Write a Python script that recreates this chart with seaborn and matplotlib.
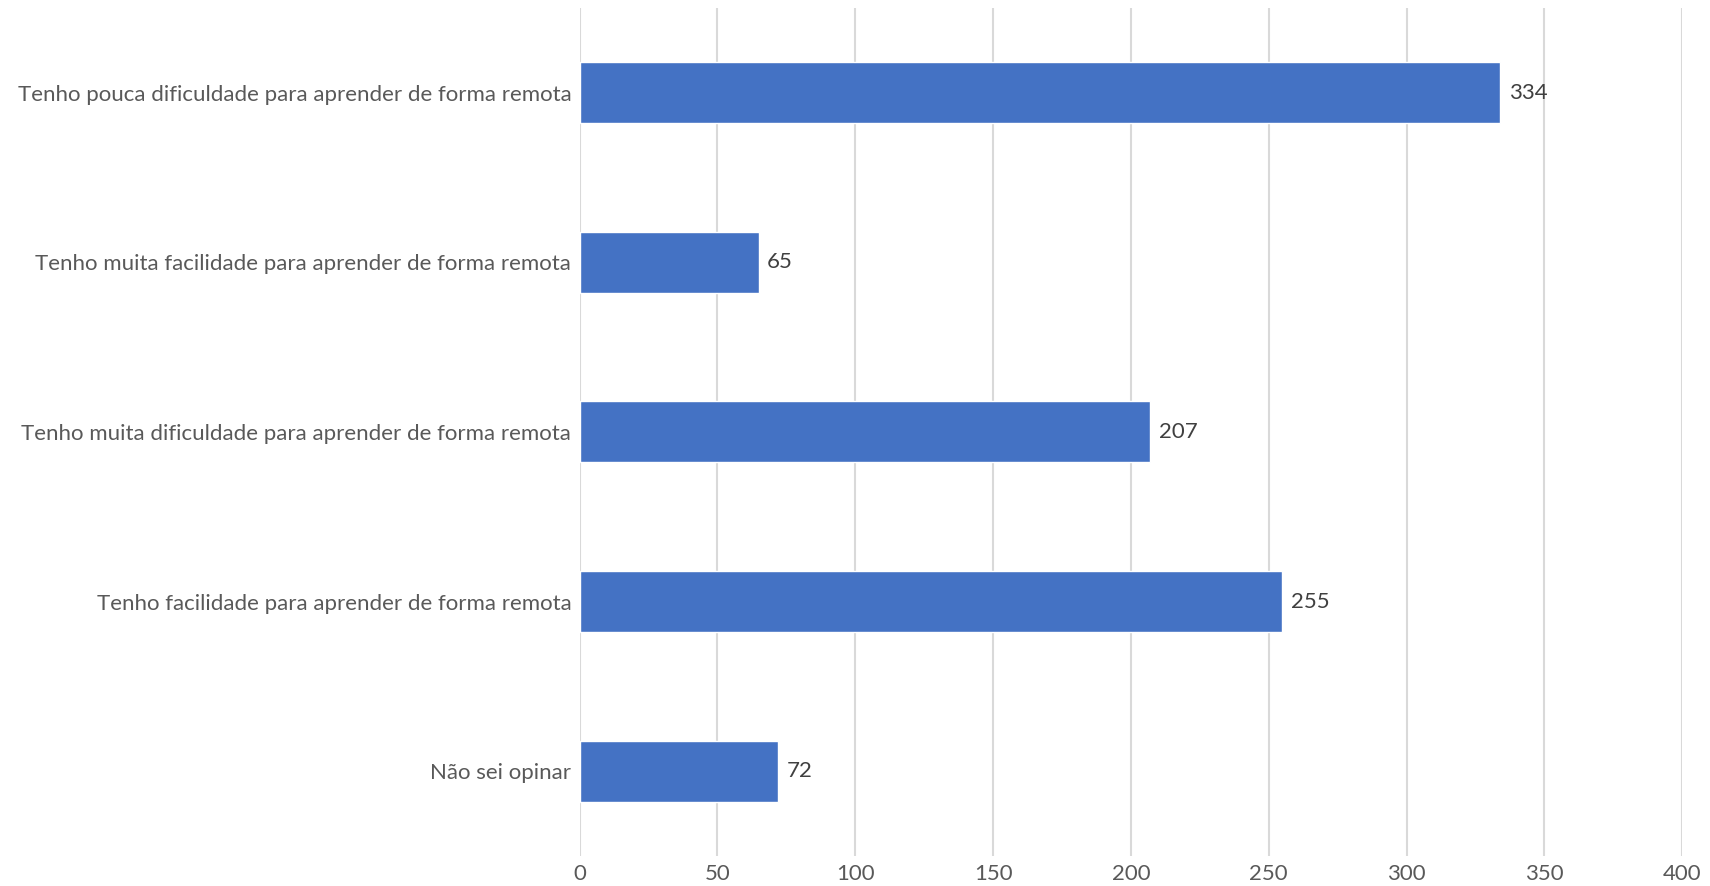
import matplotlib
matplotlib.use("Agg")
import matplotlib.pyplot as plt
import pandas as pd
import seaborn as sns

categories = [
    "Tenho pouca dificuldade para aprender de forma remota",
    "Tenho muita facilidade para aprender de forma remota",
    "Tenho muita dificuldade para aprender de forma remota",
    "Tenho facilidade para aprender de forma remota",
    "Não sei opinar",
]
counts = [334, 65, 207, 255, 72]
x_ticks = [0, 50, 100, 150, 200, 250, 300, 350, 400]

df = pd.DataFrame({"resposta": categories, "n": counts})

sns.set_style("white")
plt.rcParams["font.family"] = ["Lato", "DejaVu Sans"]

fig = plt.figure(figsize=(17.1, 8.86), dpi=100)
ax = fig.add_axes([0.339, 0.034, 0.6447, 0.957])

sns.barplot(data=df, x="n", y="resposta", orient="h", color="#4472C4",
            saturation=1, width=0.36, ax=ax, zorder=3)

ax.set_xlim(0, 400)
ax.set_ylim(4.5, -0.5)
ax.set_xticks(x_ticks)
ax.xaxis.grid(True, color="#d9d9d9", linewidth=1.5, zorder=0)
ax.set_axisbelow(True)
for s in ax.spines.values():
    s.set_visible(False)
ax.tick_params(axis="both", length=0, labelsize=16, colors="#595959")
ax.tick_params(axis="y", pad=6)
ax.tick_params(axis="x", pad=6)
ax.set_xlabel("")
ax.set_ylabel("")

ax.bar_label(ax.containers[0], padding=6, fontsize=16, color="#404040")

fig.savefig("out.png", dpi=100)
